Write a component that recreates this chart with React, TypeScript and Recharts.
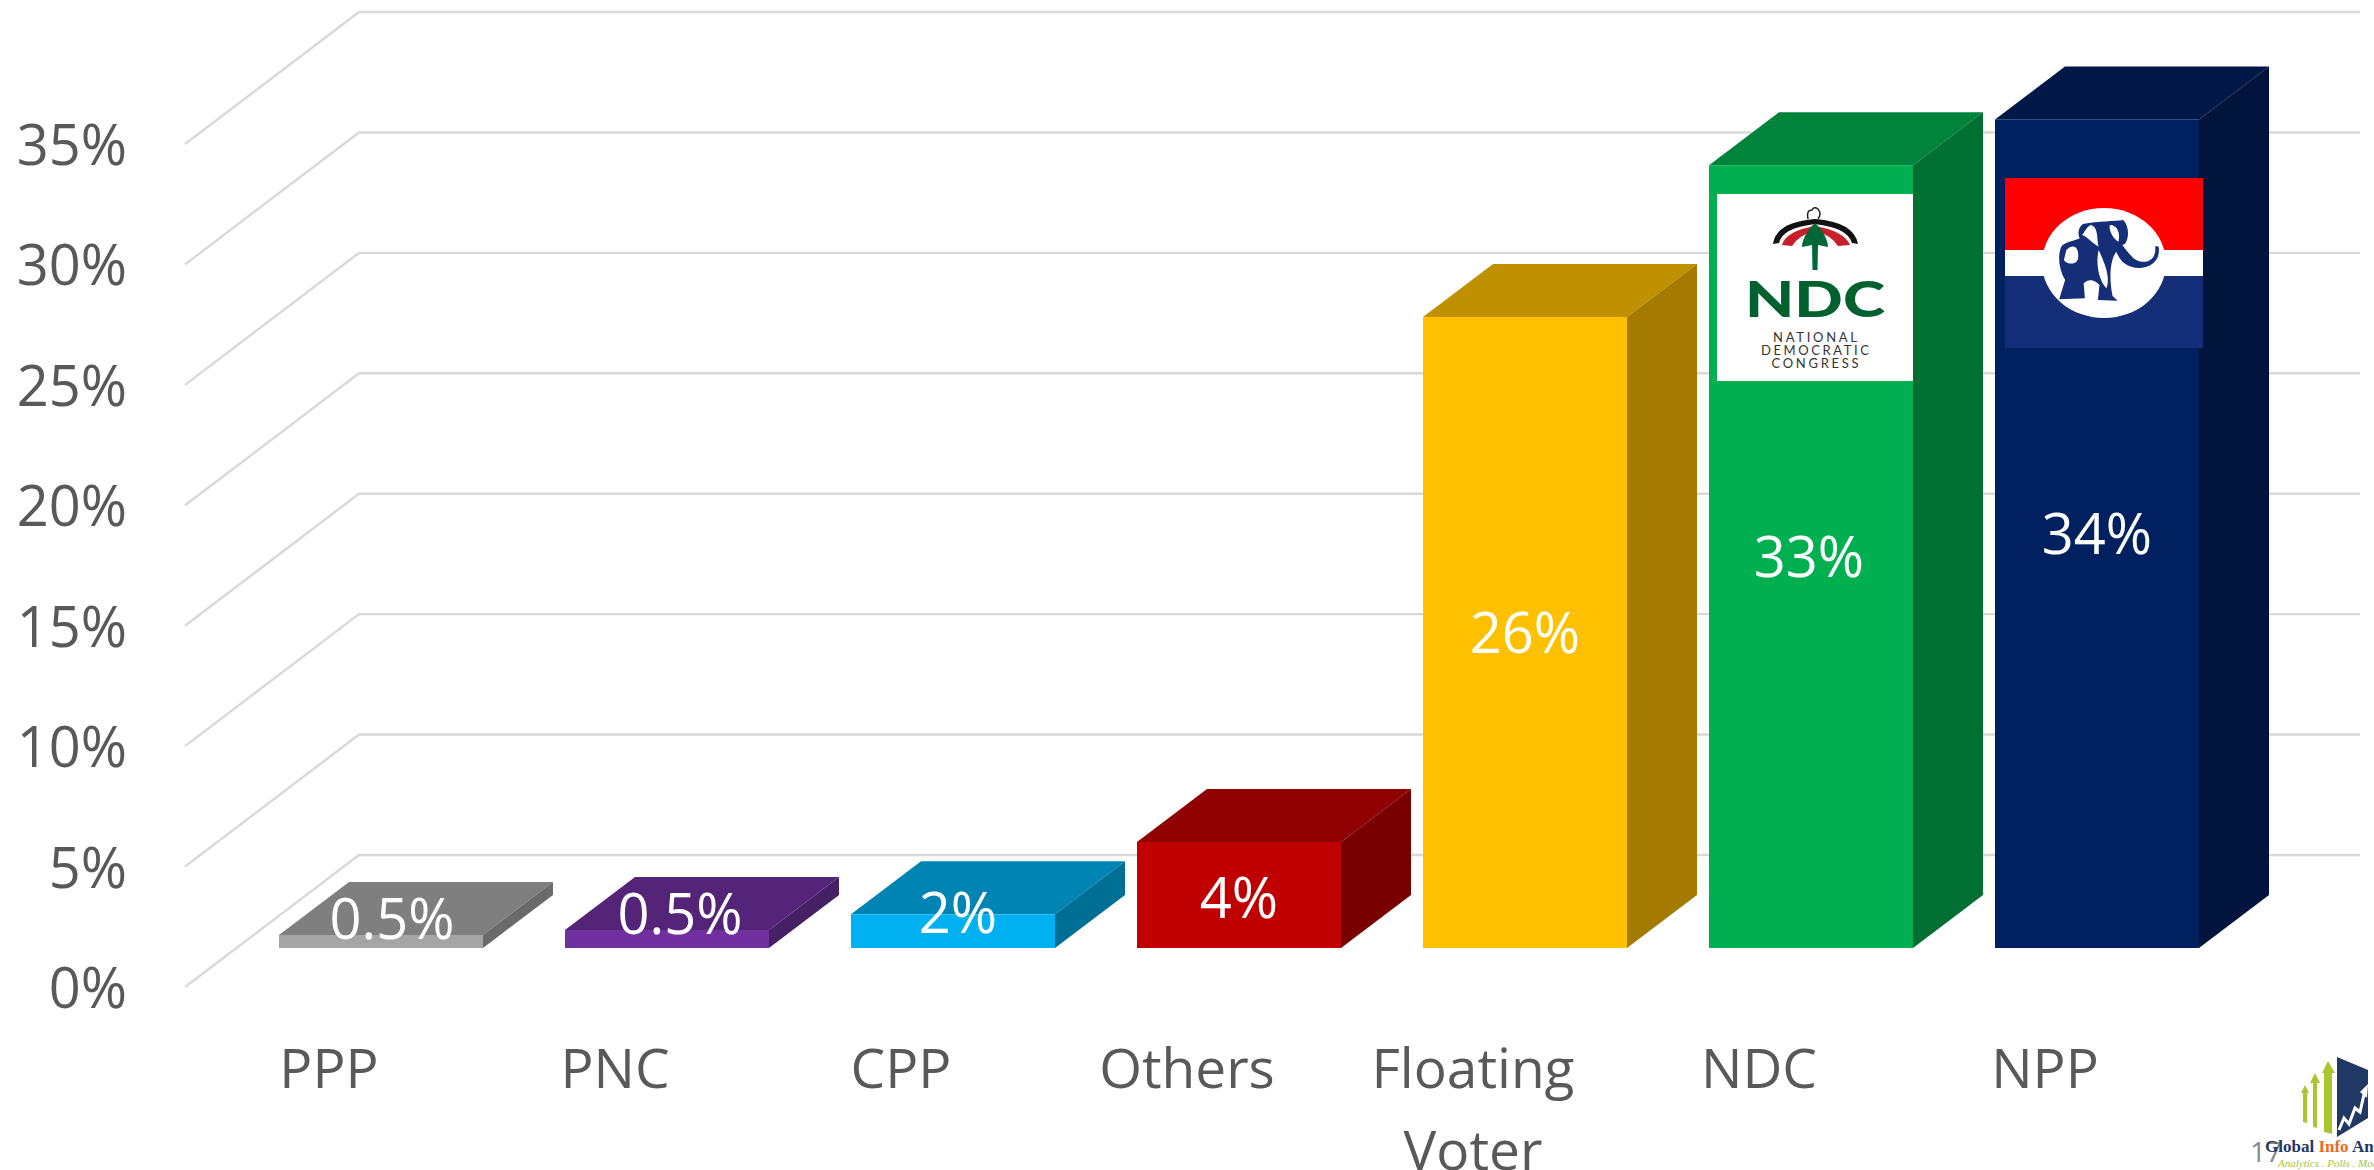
import { BarChart, Bar, XAxis, YAxis, CartesianGrid, LabelList } from 'recharts';

const categories = ['PPP', 'PNC', 'CPP', 'Others', 'Floating Voter', 'NDC', 'NPP'];
const barValues = [0.54, 0.75, 1.4, 4.4, 26.2, 32.5, 34.4];
const valueLabels = ['0.5%', '0.5%', '2%', '4%', '26%', '33%', '34%'];
const yTicks = [0, 5, 10, 15, 20, 25, 30, 35];

const frontColors = ['#A5A5A5', '#7030A0', '#00B0F0', '#C00000', '#FFC000', '#00B050', '#002060'];
const topColors = ['#7F7F7F', '#542478', '#0084B4', '#900000', '#BF9000', '#00843C', '#001848'];
const sideColors = ['#6A6A6A', '#462064', '#006F96', '#780000', '#A47B00', '#006F32', '#00143C'];

// the small bars have their labels pushed up by hand in the original
const labelNudges = [[11, -22], [13, -25], [5, -18], [0, 3], [0, 1], [-2, 0], [0, 0]];

const data = categories.map((name, i) => ({ name, value: barValues[i], label: valueLabels[i] }));

const depthX = 70;
const depthY = 53;
const font = '"Open Sans", sans-serif';
const textGray = '#595959';

function Box3D(props: any) {
  const { x, y, width, height, index } = props;
  const right = x + width;
  const bottom = y + height;
  return (
    <g>
      <polygon
        points={`${x},${y} ${x + depthX},${y - depthY} ${right + depthX},${y - depthY} ${right},${y}`}
        fill={topColors[index]}
      />
      <polygon
        points={`${right},${y} ${right + depthX},${y - depthY} ${right + depthX},${bottom - depthY} ${right},${bottom}`}
        fill={sideColors[index]}
      />
      <rect x={x} y={y} width={width} height={height} fill={frontColors[index]} />
    </g>
  );
}

function WallLine(props: any) {
  const { y1, index } = props;
  const front = y1 + 39;
  const back = y1 - 93;
  return (
    <polyline
      key={index}
      points={`185,${front} 359,${back} 2360,${back}`}
      fill="none"
      stroke="#D9D9D9"
      strokeWidth={2.4}
    />
  );
}

function YTick(props: any) {
  const { y, payload } = props;
  return (
    <text x={127} y={y + 39 + 21} textAnchor="end" fontFamily={font} fontSize={56} fill={textGray}>
      {payload.value}%
    </text>
  );
}

function XTick(props: any) {
  const { x, payload } = props;
  const lines = String(payload.value).split(' ');
  return (
    <text textAnchor="middle" fontFamily={font} fontSize={55} fill={textGray}>
      {lines.map((line, i) => (
        <tspan key={line} x={x - 52} y={1088 + i * 82}>
          {line}
        </tspan>
      ))}
    </text>
  );
}

function ValueLabel(props: any) {
  const { x, y, width, height, value, index } = props;
  const [nx, ny] = labelNudges[index];
  return (
    <text
      x={x + width / 2 + nx}
      y={y + height / 2 + ny + 20}
      textAnchor="middle"
      fontFamily={font}
      fontSize={56}
      fill="#fff"
    >
      {value}
    </text>
  );
}

function Logos() {
  return (
    <svg width={2374} height={1170} style={{ position: 'absolute', left: 0, top: 0, pointerEvents: 'none' }}>
      {/* NDC logo */}
      <rect x={1717} y={194} width={196} height={187} fill="#fff" />
      <path d="M1773 244 Q1776 222 1815 219 Q1854 222 1858 244 L1852 243 Q1848 228 1815 224 Q1782 228 1779 243 Z" fill="#111" />
      <path d="M1782 245 Q1786 231 1815 226 Q1844 231 1850 245 L1838 246 Q1832 236 1815 230 Q1798 236 1792 246 Z" fill="#C8202A" />
      <path d="M1808 219 Q1806 210 1812 210 Q1814 206 1818 209 Q1822 214 1818 219" fill="none" stroke="#222" strokeWidth={1.5} />
      <path d="M1815 223 C1806 231 1802 241 1802 247 L1812 245 L1812.5 270 L1817.5 270 L1818 245 L1828 247 C1828 241 1824 231 1815 223 Z" fill="#006838" />
      <text x={1815} y={317} textAnchor="middle" fontFamily="Lato, sans-serif" fontWeight={900} fontSize={49} fill="#00612F" textLength={140} lengthAdjust="spacingAndGlyphs">
        NDC
      </text>
      <g fontFamily="Lato, sans-serif" fontSize={13} fill="#333" textAnchor="middle">
        <text x={1815} y={342} textLength={84}>NATIONAL</text>
        <text x={1815} y={355} textLength={108}>DEMOCRATIC</text>
        <text x={1815} y={368} textLength={87}>CONGRESS</text>
      </g>

      {/* NPP flag */}
      <rect x={2005} y={178} width={198} height={72} fill="#FF0000" />
      <rect x={2005} y={250} width={198} height={26} fill="#fff" />
      <rect x={2005} y={276} width={198} height={72} fill="#142E78" />
      <ellipse cx={2104} cy={263} rx={62} ry={55} fill="#fff" />
      <g transform="translate(1680 50) scale(0.395 0.3333)">
        <path
          d="M1020 522 C1060 512 1100 515 1122 510 C1135 525 1140 560 1125 585 C1135 610 1150 640 1180 635 C1200 630 1205 610 1203 588 L1212 590 C1216 625 1200 650 1165 654 C1130 655 1112 630 1105 605 C1090 625 1085 680 1095 738 L1108 752 L1058 750 L1062 705 C1050 690 1035 685 1022 700 L1025 745 L960 748 L975 690 C960 660 955 620 965 590 C975 575 995 575 1012 565 C1005 550 1010 530 1020 522 Z"
          fill="#142E78"
        />
        <path d="M978 600 C995 580 1010 590 1008 620 C1010 640 985 650 972 630 Z" fill="#fff" />
        <path d="M1040 525 C1060 530 1055 570 1060 590 C1045 580 1030 560 1018 555 C1025 545 1030 530 1040 525 Z" fill="#fff" />
        <path d="M1088 525 C1108 525 1115 550 1110 575 C1100 570 1085 545 1088 525 Z" fill="#fff" />
        <path d="M1060 600 C1075 640 1090 680 1080 715 C1065 700 1050 650 1060 600 Z" fill="#fff" />
        <path d="M1120 585 C1140 620 1160 635 1195 625 L1190 615 C1165 625 1140 600 1130 580 Z" fill="#fff" />
      </g>

      {/* brand mark, bottom right */}
      <g fill="#A9C52F">
        <polygon points="2305,1085 2309,1093 2307,1093 2307,1123 2303,1122 2303,1093 2301,1093" />
        <polygon points="2315,1073 2320,1083 2317,1083 2317,1128 2313,1127 2313,1083 2310,1083" />
        <polygon points="2328,1061 2335,1073 2332,1073 2332,1134 2324,1132 2324,1073 2322,1073" />
      </g>
      <polygon points="2337,1057 2368,1070 2368,1118 2337,1137" fill="#1F3864" />
      <polyline points="2339,1130 2344,1118 2349,1124 2355,1108 2360,1112 2365,1090" fill="none" stroke="#fff" strokeWidth={3} />
      <polygon points="2368,1084 2367,1098 2360,1092" fill="#fff" />
      <text x={2250} y={1162} fontFamily={font} fontSize={28} fill="#898989">17</text>
      <text x={2265} y={1152} fontFamily='"Liberation Serif", serif' fontWeight={700} fontSize={17} fill="#1F3864">
        Global <tspan fill="#F26A1B">Info</tspan> An
      </text>
      <text x={2278} y={1167} fontFamily='"Liberation Serif", serif' fontStyle="italic" fontSize={11} fill="#A4C639">
        Analytics . Polls . Mod
      </text>
    </svg>
  );
}

export default function App() {
  return (
    <div style={{ position: 'absolute', left: 0, top: 0, width: 2374, height: 1170, overflow: 'hidden', background: '#fff' }}>
      <BarChart
        width={2374}
        height={1170}
        data={data}
        margin={{ top: 105, right: 134, bottom: 0, left: 0 }}
      >
        <CartesianGrid vertical={false} horizontal={WallLine as any} />
        <XAxis dataKey="name" height={222} axisLine={false} tickLine={false} interval={0} tick={XTick as any} />
        <YAxis width={238} domain={[0, 35]} ticks={yTicks} axisLine={false} tickLine={false} tick={YTick as any} />
        <Bar dataKey="value" shape={Box3D as any} barSize={204} isAnimationActive={false}>
          <LabelList dataKey="label" content={ValueLabel as any} />
        </Bar>
      </BarChart>
      <Logos />
    </div>
  );
}
